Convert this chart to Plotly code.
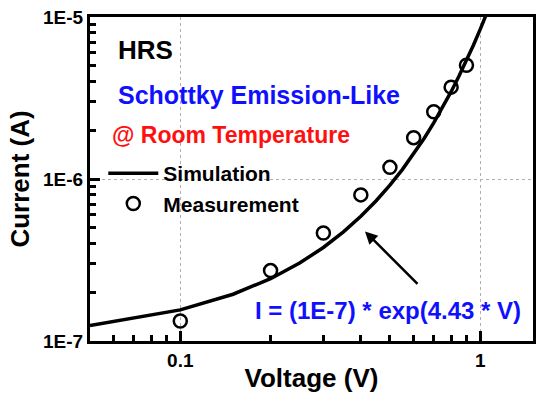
import plotly.graph_objects as go
import math

# Measurement data
meas_v = [0.1, 0.2, 0.3, 0.4, 0.5, 0.6, 0.7, 0.8, 0.9]
meas_i = [1.33e-7, 2.72e-7, 4.64e-7, 7.98e-7, 1.18e-6, 1.80e-6, 2.60e-6, 3.69e-6, 5.04e-6]

# Simulation curve (tabulated)
sim_v = [0.05, 0.1, 0.15, 0.2, 0.25, 0.3, 0.35, 0.4, 0.45, 0.5, 0.55, 0.6,
         0.65, 0.7, 0.75, 0.8, 0.85, 0.9, 0.95, 1.0, 1.05]
sim_i = [1.248e-7, 1.557e-7, 1.944e-7, 2.425e-7, 3.027e-7, 3.777e-7, 4.714e-7,
         5.883e-7, 7.341e-7, 9.161e-7, 1.143e-6, 1.427e-6, 1.780e-6, 2.222e-6,
         2.773e-6, 3.460e-6, 4.318e-6, 5.388e-6, 6.724e-6, 8.393e-6, 1.047e-5]

x_tickvals = [0.1, 1]
x_ticktext = ["0.1", "1"]
x_minor = [0.05, 0.06, 0.07, 0.08, 0.09, 0.2, 0.3, 0.4, 0.5, 0.6, 0.7, 0.8, 0.9]
y_tickvals = [1e-7, 1e-6, 1e-5]
y_ticktext = ["1E-7", "1E-6", "1E-5"]
y_minor = [2e-7, 3e-7, 4e-7, 5e-7, 6e-7, 7e-7, 8e-7, 9e-7,
           2e-6, 3e-6, 4e-6, 5e-6, 6e-6, 7e-6, 8e-6, 9e-6]

FONT = "Liberation Sans, Arial, sans-serif"
XR = [math.log10(0.05), math.log10(1.5)]
YR = [-7, -5]

fig = go.Figure()
fig.add_trace(go.Scatter(x=sim_v, y=sim_i, mode="lines", name="Simulation",
                         line=dict(color="black", width=3.5)))
fig.add_trace(go.Scatter(x=meas_v, y=meas_i, mode="markers", name="Measurement",
                         xaxis="x2", yaxis="y2",
                         marker=dict(symbol="circle-open", size=13, color="black",
                                     line=dict(width=2.5, color="black"))))

major_common = dict(
    type="log", showline=True, linecolor="black", linewidth=3, mirror=True,
    ticks="inside", ticklen=10, tickwidth=3, tickcolor="black",
    showgrid=True, gridcolor="#b0b0b0", griddash="dot", gridwidth=1,
    zeroline=False, ticklabeloverflow="allow",
    tickfont=dict(family=FONT, size=19, color="black", weight="bold"),
)
minor_common = dict(
    type="log", showline=False, showgrid=False, zeroline=False,
    ticks="inside", ticklen=6, tickwidth=2.5, tickcolor="black",
    showticklabels=False,
)

fig.update_layout(
    xaxis=dict(**major_common, range=XR, tickvals=x_tickvals, ticktext=x_ticktext,
               title=dict(text="Voltage (V)", standoff=0,
                          font=dict(family=FONT, size=26, color="black", weight="bold"))),
    yaxis=dict(**major_common, range=YR, tickvals=y_tickvals, ticktext=y_ticktext,
               title=dict(text="Current (A)", standoff=6,
                          font=dict(family=FONT, size=26, color="black", weight="bold"))),
    xaxis2=dict(**minor_common, range=XR, tickvals=x_minor, overlaying="x", side="bottom"),
    yaxis2=dict(**minor_common, range=YR, tickvals=y_minor, overlaying="y", side="left"),
)

def txt(text, x, y, size, color):
    fig.add_annotation(text=text, xref="paper", yref="paper", x=x, y=y,
                       xanchor="left", yanchor="middle", showarrow=False,
                       font=dict(family=FONT, size=size, color=color, weight="bold"))

txt("HRS", 0.058, 0.898, 26, "black")
txt("Schottky Emission-Like", 0.058, 0.758, 25, "#1010ff")
txt("@ Room Temperature", 0.046, 0.637, 23, "#ff1010")
txt("I = (1E-7) * exp(4.43 * V)", 0.368, 0.094, 24, "#1010ff")

fig.add_annotation(x=math.log10(0.413), y=math.log10(4.75e-7), xref="x", yref="y",
                   ax=54, ay=54, axref="pixel", ayref="pixel", text="",
                   showarrow=True, arrowhead=2, arrowsize=1, arrowwidth=2.5,
                   arrowcolor="black")

fig.update_layout(
    width=543, height=399,
    margin=dict(l=90, r=7, t=10, b=58),
    paper_bgcolor="white", plot_bgcolor="white",
    showlegend=True,
    legend=dict(x=0.03, y=0.58, xanchor="left", yanchor="top",
                bgcolor="rgba(0,0,0,0)", borderwidth=0,
                font=dict(family=FONT, size=21, color="black", weight="bold"),
                tracegroupgap=0, itemwidth=50),
)

fig.write_html("out.html")
